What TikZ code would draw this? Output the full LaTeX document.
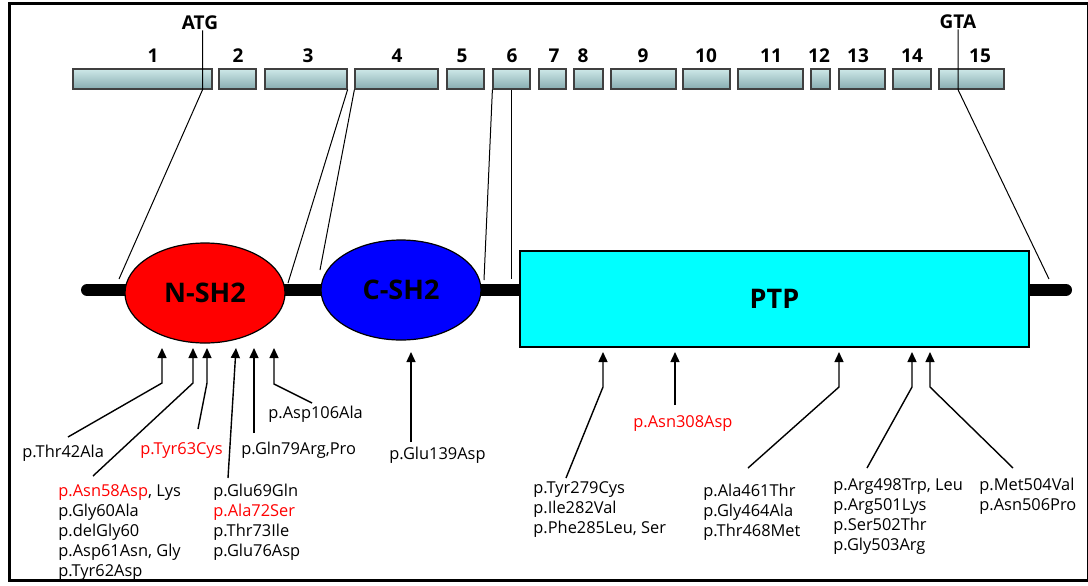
\documentclass[tikz,border=0pt]{standalone}
\usepackage{fontspec}
\setmainfont{Open Sans}
\usetikzlibrary{shapes.geometric,arrows.meta}

\definecolor{exontop}{RGB}{205,232,232}
\definecolor{exonbot}{RGB}{135,172,176}
\definecolor{ptpcyan}{RGB}{0,255,255}
\definecolor{shred}{RGB}{255,0,0}
\definecolor{shblue}{RGB}{0,0,255}

\begin{document}
\begin{tikzpicture}[
  x=0.5pt, y=-0.5pt,
  exon/.style={draw=black!75, line width=0.6pt, top color=exontop, bottom color=exonbot,
    minimum height=10pt, inner sep=0pt},
  exnum/.style={font=\fontsize{9.5}{11}\selectfont\bfseries, inner sep=0pt},
  protdom/.style={draw=black, line width=0.6pt, inner sep=0pt,
    font=\fontsize{13.5}{15}\selectfont\bfseries},
  link/.style={draw=black, line width=0.5pt},
  backbone/.style={line width=6pt, line cap=round},
  mut/.style={anchor=base west, align=left, inner sep=0pt, font=\fontsize{8.2}{10}\selectfont},
  mutblock/.style={mut, anchor=north west},
  hit/.style={line width=0.7pt, -{Triangle[length=5pt,width=4.5pt]}}
]
  \useasboundingbox (0,0) rectangle (1088,585);
  \draw[line width=1.5pt] (9,3.5) rectangle (1088,580);

  % exons
  \foreach \n/\a/\b/\lx in {1/73/212/153, 2/219/256/238, 3/265/347/308, 4/355/438/397,
      5/447/484/462, 6/493/530/512, 7/539/566/554, 8/574/603/583, 9/611/676/643,
      10/683/730/706, 11/738/803/771, 12/811/830/819, 13/839/885/858, 14/893/931/912,
      15/939/1004/980} {
    \node[exon, minimum width={(\b-\a)*0.5pt}] (e\n) at ({(\a+\b)/2},79) {};
    \node[exnum] (n\n) at (\lx,56) {\n};
  }
  \node[exnum] (atg) at (200,23) {ATG};
  \node[exnum] (gta) at (958,22) {GTA};

  % protein
  \draw[backbone] (87,290) -- (1066,290);
  \node[protdom, ellipse, fill=shred, minimum width=80pt, minimum height=50pt] (nsh2) at (205,293) {N-SH2};
  \node[protdom, ellipse, fill=shblue, minimum width=80pt, minimum height=50pt] (csh2) at (401,290) {C-SH2};
  \node[protdom, rectangle, fill=ptpcyan, minimum width=254.5pt, minimum height=48pt] (ptp) at (774.5,299) {PTP};

  % exon to domain
  \coordinate (k1) at (119,279);
  \coordinate (k2) at (288,283);
  \coordinate (k3) at (320,270);
  \coordinate (k4) at (484,280);
  \coordinate (k5) at (511.5,279);
  \coordinate (k6) at (1049,279);
  \draw[link] (atg.south -| e1.south east) ++(-10,0) coordinate (atgx) -- (atgx |- e1.south) -- (k1);
  \draw[link] (e3.south east) -- (k2);
  \draw[link] (e4.south west) -- (k3);
  \draw[link] (e6.south west) -- (k4);
  \draw[link] (e6.south) -- (k5);
  \draw[link] (gta.south) -- (gta.south |- e15.south) -- (k6);

  % mutations
  \node[mut] (m1) at (22,457) {p.Thr42Ala};
  \node[mutblock] (m2) at (58,484) {\textcolor{red}{p.Asn58Asp}, Lys\\p.Gly60Ala\\p.delGly60\\p.Asp61Asn, Gly\\p.Tyr62Asp};
  \node[mut, text=red] (m3) at (140,454) {p.Tyr63Cys};
  \node[mutblock] (m4) at (213,484) {p.Glu69Gln\\\textcolor{red}{p.Ala72Ser}\\p.Thr73Ile\\p.Glu76Asp};
  \node[mut] (m5) at (241,454) {p.Gln79Arg,Pro};
  \node[mut] (m6) at (268,418) {p.Asp106Ala};
  \node[mut] (m7) at (389,459) {p.Glu139Asp};
  \node[mutblock] (m8) at (533,481) {p.Tyr279Cys\\p.Ile282Val\\p.Phe285Leu, Ser};
  \node[mut, text=red] (m9) at (633,427) {p.Asn308Asp};
  \node[mutblock] (m10) at (703,484) {p.Ala461Thr\\p.Gly464Ala\\p.Thr468Met};
  \node[mutblock] (m11) at (833,478) {p.Arg498Trp, Leu\\p.Arg501Lys\\p.Ser502Thr\\p.Gly503Arg};
  \node[mutblock] (m12) at (979,478) {p.Met504Val\\p.Asn506Pro};

  \coordinate (s1) at (68,437);   \coordinate (b1) at (162,383);  \coordinate (t1) at (162,348);
  \coordinate (s2) at (93,476);   \coordinate (b2) at (193,383);  \coordinate (t2) at (193,348);
  \coordinate (s3) at (198,429);  \coordinate (b3) at (207,383);  \coordinate (t3) at (207,348);
  \coordinate (s4) at (228,478);  \coordinate (t4) at (236,348);
  \coordinate (s5) at (254,433);  \coordinate (t5) at (254,348);
  \coordinate (s6) at (312,403);  \coordinate (b6) at (274,384);  \coordinate (t6) at (274,348);
  \coordinate (s7) at (411,442);  \coordinate (t7) at (411,352);
  \coordinate (s8) at (566,478);  \coordinate (b8) at (603,387);  \coordinate (t8) at (603,352);
  \coordinate (s9) at (675,405);  \coordinate (t9) at (675,352);
  \coordinate (s10) at (748,468); \coordinate (b10) at (839,387); \coordinate (t10) at (839,352);
  \coordinate (s11) at (867,468); \coordinate (b11) at (912,387); \coordinate (t11) at (912,352);
  \coordinate (s12) at (1013,468); \coordinate (b12) at (930,387); \coordinate (t12) at (930,352);

  \draw[hit] (s1) -- (b1) -- (t1);
  \draw[hit] (s2) -- (b2) -- (t2);
  \draw[hit] (s3) -- (b3) -- (t3);
  \draw[hit] (s4) -- (t4);
  \draw[hit] (s5) -- (t5);
  \draw[hit] (s6) -- (b6) -- (t6);
  \draw[hit] (s7) -- (t7);
  \draw[hit] (s8) -- (b8) -- (t8);
  \draw[hit] (s9) -- (t9);
  \draw[hit] (s10) -- (b10) -- (t10);
  \draw[hit] (s11) -- (b11) -- (t11);
  \draw[hit] (s12) -- (b12) -- (t12);
\end{tikzpicture}
\end{document}
